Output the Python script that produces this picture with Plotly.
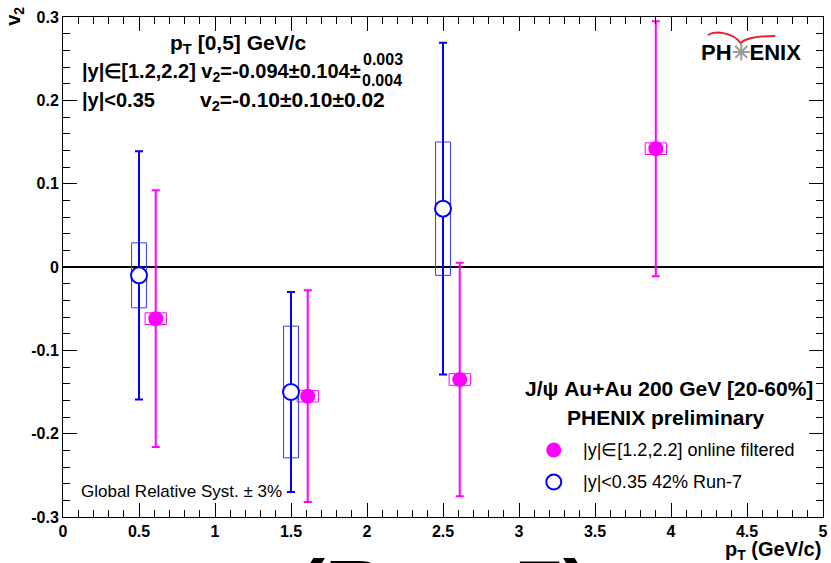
import plotly.graph_objects as go

# ---------------- data ----------------
blue_x = [0.5, 1.5, 2.5]
blue_y = [-0.01, -0.15, 0.07]
blue_stat = [0.149, 0.12, 0.199]
blue_sys = [0.039, 0.079, 0.08]

mag_x = [0.61, 1.61, 2.61, 3.9]
mag_y = [-0.062, -0.155, -0.135, 0.142]
mag_stat = [0.154, 0.127, 0.14, 0.153]
mag_sys = [0.007, 0.007, 0.007, 0.007]

blue_box_halfwidth = 0.049
mag_box_halfwidth = 0.07

x_ticks = [0, 0.5, 1, 1.5, 2, 2.5, 3, 3.5, 4, 4.5, 5]
x_ticklabels = ["0", "0.5", "1", "1.5", "2", "2.5", "3", "3.5", "4", "4.5", "5"]
y_ticks = [-0.3, -0.2, -0.1, 0, 0.1, 0.2, 0.3]
y_ticklabels = ["-0.3", "-0.2", "-0.1", "0", "0.1", "0.2", "0.3"]

MAG = "#ff00ff"
BLUE = "#0000ff"
FONT = "Liberation Sans, Arial, Helvetica, sans-serif"

W, H = 831, 563
L, R, T, B = 63, 3, 17, 46
PW, PH = W - L - R, H - T - B


def px(xp):
    return (xp - L) / PW


def py(yp):
    return (H - B - yp) / PH


fig = go.Figure()

fig.add_trace(go.Scatter(
    x=mag_x, y=mag_y, mode="markers",
    marker=dict(symbol="circle", size=15, color=MAG, line=dict(width=0)),
    error_y=dict(type="data", array=mag_stat, visible=True, color=MAG,
                 thickness=2, width=4),
    showlegend=False, cliponaxis=False,
))
fig.add_trace(go.Scatter(
    x=blue_x, y=blue_y, mode="markers",
    marker=dict(symbol="circle", size=16, color="white",
                line=dict(width=2, color=BLUE)),
    error_y=dict(type="data", array=blue_stat, visible=True, color=BLUE,
                 thickness=2, width=4),
    showlegend=False, cliponaxis=False,
))

shapes = []
# zero line
shapes.append(dict(type="line", xref="x", yref="y", x0=x_ticks[0], x1=x_ticks[-1],
                   y0=0, y1=0, line=dict(color="black", width=2), layer="below"))
for xv, yv, s in zip(blue_x, blue_y, blue_sys):
    shapes.append(dict(type="rect", xref="x", yref="y",
                       x0=xv - blue_box_halfwidth, x1=xv + blue_box_halfwidth,
                       y0=yv - s, y1=yv + s,
                       line=dict(color="#3a3aff", width=1), layer="below"))
for xv, yv, s in zip(mag_x, mag_y, mag_sys):
    shapes.append(dict(type="rect", xref="x", yref="y",
                       x0=xv - mag_box_halfwidth, x1=xv + mag_box_halfwidth,
                       y0=yv - s, y1=yv + s,
                       line=dict(color=MAG, width=1), layer="below"))

# PHENIX logo arc
shapes.append(dict(type="path", xref="paper", yref="paper",
                   path=f"M {px(712)},{py(35)} C {px(720)},{py(30)} {px(738)},{py(33)} {px(745)},{py(43)} "
                        f"C {px(752)},{py(37)} {px(765)},{py(36)} {px(780)},{py(36)}",
                   line=dict(color="#e8202a", width=2)))

# legend markers
fig.add_trace(go.Scatter(x=[px(557)], y=[py(450)], xaxis="x2", yaxis="y2", mode="markers",
                         marker=dict(symbol="circle", size=15, color=MAG),
                         showlegend=False, hoverinfo="skip", cliponaxis=False))
fig.add_trace(go.Scatter(x=[px(557)], y=[py(482)], xaxis="x2", yaxis="y2", mode="markers",
                         marker=dict(symbol="circle", size=15, color="white",
                                     line=dict(width=2, color=BLUE)),
                         showlegend=False, hoverinfo="skip", cliponaxis=False))

ann = []


def text(x, y, s, size, xanchor="left", yanchor="middle", color="black", angle=0):
    ann.append(dict(xref="paper", yref="paper", x=px(x), y=py(y), text=s,
                    showarrow=False, xanchor=xanchor, yanchor=yanchor,
                    font=dict(family=FONT, size=size, color=color),
                    textangle=angle))


text(240, 44, "<b>p<sub>T</sub> [0,5] GeV/c</b>", 21, xanchor="center")
text(80, 72, "<b>|y|∈[1.2,2.2] v<sub>2</sub>=-0.094±0.104±</b>", 20)
text(363, 60, "<b>0.003</b>", 16)
text(362, 80, "<b>0.004</b>", 16)
text(80, 100, "<b>|y|<0.35</b>", 20)
text(199, 101, "<b>v<sub>2</sub>=-0.10±0.10±0.02</b>", 21)

text(673, 388, "<b>J/ψ Au+Au 200 GeV [20-60%]</b>", 21, xanchor="center")
text(670, 417, "<b>PHENIX preliminary</b>", 21, xanchor="center")
text(584, 450, "|y|∈[1.2,2.2] online filtered", 18)
text(584, 482, "|y|<0.35 42% Run-7", 18)
text(79, 491, "Global Relative Syst. ± 3%", 17)

text(756, 53, "<b>PH<span style='color:#9a9a9a'>✳</span>ENIX</b>", 22, xanchor="center")

text(828, 550, "<b>p<sub>T</sub> (GeV/c)</b>", 20, xanchor="right")
text(14, 5, "<b>v<sub>2</sub></b>", 20, xanchor="center", yanchor="top", angle=-90)

# big clipped text at bottom
text(447, 541, "<b>(Run-7)</b>", 84, xanchor="center", yanchor="top")

axis_common = dict(
    ticks="inside", ticklen=14, tickwidth=1, tickcolor="black",
    showline=True, linecolor="black", linewidth=1, mirror="allticks",
    showgrid=False, zeroline=False, ticklabeloverflow="allow",
    tickfont=dict(family=FONT, size=16, weight="bold"),
)

fig.update_layout(
    width=W, height=H,
    margin=dict(l=L, r=R, t=T, b=B, pad=0),
    paper_bgcolor="white", plot_bgcolor="white",
    shapes=shapes, annotations=ann,
    font=dict(family=FONT, size=14, color="black"),
    xaxis=dict(range=[x_ticks[0], x_ticks[-1]], tickvals=x_ticks, ticktext=x_ticklabels,
               minor=dict(dtick=0.1, ticks="inside", ticklen=7, tickcolor="black", showgrid=False),
               **axis_common),
    yaxis=dict(range=[y_ticks[0], y_ticks[-1]], tickvals=y_ticks, ticktext=y_ticklabels,
               minor=dict(dtick=0.02, ticks="inside", ticklen=7, tickcolor="black", showgrid=False),
               **axis_common),
    xaxis2=dict(range=[0, 1], overlaying="x", visible=False, fixedrange=True),
    yaxis2=dict(range=[0, 1], overlaying="y", visible=False, fixedrange=True),
)

fig.write_html("out.html")
